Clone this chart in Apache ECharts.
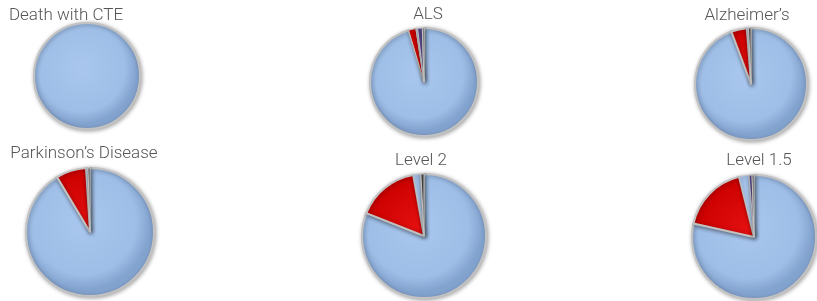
<!DOCTYPE html>
<html>
<head>
<meta charset="utf-8">
<script src="https://cdn.jsdelivr.net/npm/echarts@6/dist/echarts.min.js"></script>
<style>
  html, body { margin: 0; padding: 0; background: #fff; }
  #chart { width: 817px; height: 301px; }
</style>
</head>
<body>
<div id="chart"></div>
<script>
// pie titles, in drawing order (top row, then bottom row)
const pieTitles = ['Death with CTE', 'ALS', 'Alzheimer\u2019s', 'Parkinson\u2019s Disease', 'Level 2', 'Level 1.5'];
// slice names, clockwise from 12 o'clock
const sliceNames = ['Main', 'Red', 'Light', 'Purple', 'Dark'];
// percent of each slice
const cteValues = [100, 0, 0, 0, 0];
const alsValues = [95.4, 2.2, 0.5, 1.4, 0.5];
const alzValues = [94.3, 4.5, 0.5, 0, 0.7];
const parkValues = [91.4, 7.6, 0.5, 0, 0.5];
const level2Values = [81, 16.2, 1.9, 0.1, 0.8];
const level15Values = [78.5, 17.6, 2.6, 0.8, 0.5];

const allValues = [cteValues, alsValues, alzValues, parkValues, level2Values, level15Values];

// layout: [centerX, centerY, radius, titleX, titleY]
const layout = [
    [87, 76, 53, 66, 7],
    [424, 82, 54, 428, 6],
    [751, 84, 56, 747, 7],
    [90, 232, 64, 84, 145],
    [424, 236, 62, 421, 152],
    [754, 237, 62, 759, 152]
];

const baseColors = [
    ['#a9c7ee', '#9ebee7', '#83a3cf'],
    ['#e41010', '#cc0000', '#9a0000'],
    ['#b7d0f0', '#a6c3ea', '#86a6d0'],
    ['#6e5ca4', '#57468c', '#3f3270'],
    ['#5a5a5a', '#404040', '#2a2a2a']
];

function fillFor(idx, cx, cy, r) {
    const c = baseColors[idx];
    return new echarts.graphic.RadialGradient(cx - r * 0.1, cy - r * 0.15, r * 1.05, [
        { offset: 0, color: c[0] },
        { offset: 0.78, color: c[1] },
        { offset: 1, color: c[2] }
    ], true);
}

const chart = echarts.init(document.getElementById('chart'));

const titles = pieTitles.map((t, i) => ({
    text: t,
    left: layout[i][3],
    top: layout[i][4],
    textAlign: 'center',
    padding: 0,
    textStyle: {
        fontFamily: 'Roboto',
        fontWeight: 300,
        fontSize: 17,
        color: '#555555'
    }
}));

const series = allValues.map((vals, i) => {
    const [cx, cy, r] = layout[i];
    const data = [];
    vals.forEach((v, k) => {
        if (v > 0) {
            data.push({
                name: sliceNames[k],
                value: v,
                itemStyle: {
                    color: fillFor(k, cx, cy, r),
                    borderWidth: v < 3 ? 1 : 2
                }
            });
        }
    });
    return {
        type: 'pie',
        name: pieTitles[i],
        center: [cx, cy],
        radius: [0, r],
        startAngle: 90,
        clockwise: true,
        label: { show: false },
        labelLine: { show: false },
        silent: true,
        animation: false,
        itemStyle: {
            borderColor: '#c2c2c2',
            borderWidth: 2,
            shadowBlur: 4,
            shadowColor: 'rgba(0,0,0,0.35)',
            shadowOffsetX: 1,
            shadowOffsetY: 1
        },
        data: data
    };
});

chart.setOption({
    backgroundColor: '#ffffff',
    title: titles,
    series: series
});
</script>
</body>
</html>
